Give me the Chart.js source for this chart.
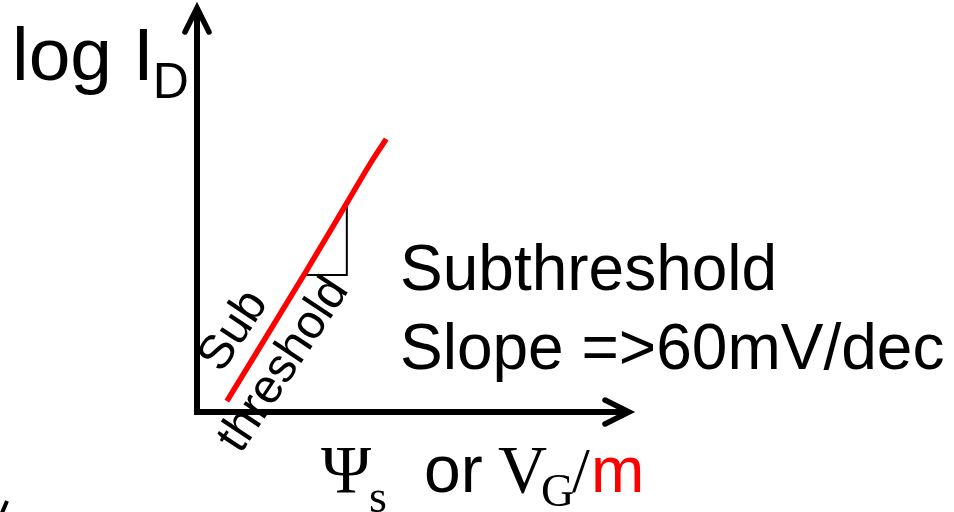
<!DOCTYPE html>
<html>
<head>
<meta charset="utf-8">
<style>
  html, body { margin: 0; padding: 0; background: #ffffff; overflow: hidden; }
  #wrap { width: 954px; height: 512px; }
</style>
<script src="https://cdn.jsdelivr.net/npm/chart.js@4/dist/chart.umd.min.js"></script>
</head>
<body>
<div id="wrap"><canvas id="c" width="954" height="512"></canvas></div>
<script>
// ---- data (schematic units, axes run 0..10) ----
const curveX = [0.69, 2.54, 3.46, 4.04, 4.37];
const curveY = [0.27, 3.51, 5.16, 6.20, 6.74];
const slopeTriX = [3.46, 3.46, 2.49];
const slopeTriY = [5.16, 3.38, 3.38];
const axisMax = 10;

const yAxisLabel = 'log I';
const yAxisSub = 'D';
const curveLabelA = 'Sub';
const curveLabelB = 'threshold';
const noteLines = ['Subthreshold', 'Slope =>60mV/dec'];

const toPts = (xs, ys) => xs.map((x, i) => ({ x: x, y: ys[i] }));

const SANS = '"Liberation Sans", Arial, sans-serif';
const SERIF = '"Liberation Serif", "Times New Roman", serif';

const decor = {
  id: 'decor',
  afterDatasetsDraw(chart) {
    const ctx = chart.ctx;
    const xs = chart.scales.x, ys = chart.scales.y;
    const ox = xs.getPixelForValue(0), oy = ys.getPixelForValue(0);
    const xe = xs.getPixelForValue(axisMax), ye = ys.getPixelForValue(axisMax);
    ctx.save();
    // axes
    ctx.strokeStyle = '#000';
    ctx.lineWidth = 6;
    ctx.lineJoin = 'miter';
    ctx.lineCap = 'butt';
    ctx.beginPath();
    ctx.moveTo(ox, ye + 3);
    ctx.lineTo(ox, oy);
    ctx.lineTo(xe - 3, oy);
    ctx.stroke();
    // arrow heads
    ctx.lineWidth = 5.5;
    ctx.lineCap = 'round';
    ctx.beginPath();
    ctx.moveTo(ox - 12, ye + 25);
    ctx.lineTo(ox, ye + 1);
    ctx.lineTo(ox + 12, ye + 25);
    ctx.stroke();
    ctx.beginPath();
    ctx.moveTo(xe - 25, oy - 12);
    ctx.lineTo(xe - 1, oy);
    ctx.lineTo(xe - 25, oy + 12);
    ctx.stroke();
    // tiny cropped mark at lower-left edge
    ctx.lineWidth = 4;
    ctx.lineCap = 'butt';
    ctx.beginPath();
    ctx.moveTo(2, 513);
    ctx.lineTo(7, 501);
    ctx.stroke();

    // texts
    ctx.fillStyle = '#000';
    ctx.textBaseline = 'alphabetic';
    ctx.textAlign = 'left';
    ctx.font = '75px ' + SANS;
    ctx.fillText(yAxisLabel, 12, 80);
    const w = ctx.measureText(yAxisLabel).width;
    ctx.font = '50px ' + SANS;
    ctx.fillText(yAxisSub, 11 + w, 98);

    ctx.font = '64px ' + SANS;
    ctx.fillText(noteLines[0], 400, 290);
    ctx.fillText(noteLines[1], 400, 369);

    // x-axis label: Ψs or VG/m
    ctx.font = '68px ' + SERIF;
    ctx.fillText('\u03A8', 321, 492);
    ctx.font = '46px ' + SERIF;
    ctx.fillText('s', 369, 512);
    ctx.font = '66px ' + SANS;
    ctx.fillText('or', 424, 492);
    ctx.font = '68px ' + SERIF;
    ctx.fillText('V', 498, 492);
    ctx.font = '46px ' + SERIF;
    ctx.fillText('G', 541, 506);
    ctx.font = '64px ' + SERIF;
    ctx.fillText('/', 572, 492);
    ctx.fillStyle = '#ff0000';
    ctx.font = '64px ' + SANS;
    ctx.fillText('m', 591, 492);

    // rotated labels along the curve
    ctx.fillStyle = '#000';
    ctx.textAlign = 'center';
    ctx.textBaseline = 'middle';
    ctx.font = '48px ' + SANS;
    const ang = -56.5 * Math.PI / 180;
    ctx.save();
    ctx.translate(234, 331);
    ctx.rotate(ang);
    ctx.fillText(curveLabelA, 0, 0);
    ctx.restore();
    ctx.save();
    ctx.translate(284, 365);
    ctx.rotate(ang);
    ctx.fillText(curveLabelB, 0, 0);
    ctx.restore();
    ctx.restore();
  }
};

new Chart(document.getElementById('c'), {
  type: 'scatter',
  data: {
    datasets: [
      {
        data: toPts(curveX, curveY),
        showLine: true,
        borderColor: '#ff0000',
        borderWidth: 5.5,
        borderCapStyle: 'butt',
        pointRadius: 0,
        tension: 0.3,
        cubicInterpolationMode: 'monotone'
      },
      {
        data: toPts(slopeTriX, slopeTriY),
        showLine: true,
        borderColor: '#000000',
        borderWidth: 2,
        pointRadius: 0,
        tension: 0
      }
    ]
  },
  options: {
    responsive: false,
    devicePixelRatio: 1,
    animation: false,
    layout: { padding: { left: 197, right: 324, top: 7, bottom: 100 } },
    scales: {
      x: { type: 'linear', min: 0, max: axisMax, display: false },
      y: { type: 'linear', min: 0, max: axisMax, display: false }
    },
    plugins: { legend: { display: false }, tooltip: { enabled: false } }
  },
  plugins: [decor]
});
</script>
</body>
</html>
